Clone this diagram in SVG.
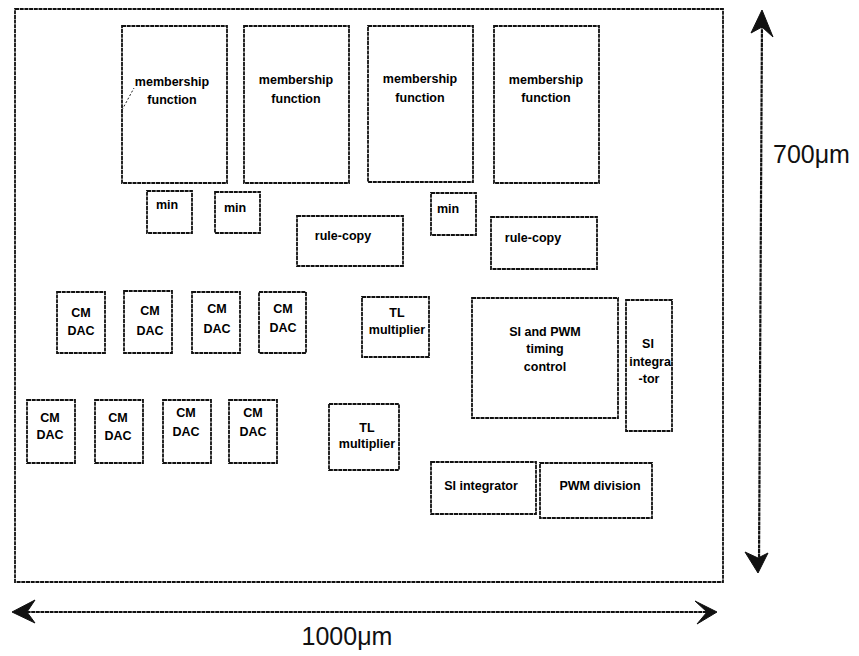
<svg xmlns="http://www.w3.org/2000/svg" width="859" height="656" viewBox="0 0 859 656">
<style>
.blk{fill:none;stroke:#111;stroke-width:1.8;stroke-dasharray:4 0.7}
.lbl{font-family:"Liberation Sans",Arial,sans-serif;font-weight:bold;font-size:12.5px;fill:#000;text-anchor:middle}
.dim{font-family:"Liberation Sans",Arial,sans-serif;font-size:25px;fill:#111}
.arr{stroke:#111;stroke-width:2.2;fill:none;stroke-dasharray:4 0.6}
.head{fill:#111;stroke:#111;stroke-width:1;stroke-linejoin:round}
</style>
<rect width="859" height="656" fill="#fff"/>
<g id="chip"><rect class="blk" x="15" y="9" width="708" height="573"/></g>

<g id="mf1"><rect class="blk" x="122" y="26" width="105" height="157"/>
<line x1="122" y1="110" x2="134" y2="88" stroke="#222" stroke-width="1" stroke-dasharray="2 2"/>
<text class="lbl" x="172" y="86">membership</text><text class="lbl" x="172" y="104">function</text></g>
<g id="mf2"><rect class="blk" x="244" y="26" width="105" height="157"/>
<text class="lbl" x="296" y="84">membership</text><text class="lbl" x="296" y="103">function</text></g>
<g id="mf3"><rect class="blk" x="368" y="26" width="105" height="156"/>
<text class="lbl" x="420" y="83">membership</text><text class="lbl" x="420" y="102">function</text></g>
<g id="mf4"><rect class="blk" x="494" y="26" width="105" height="157"/>
<text class="lbl" x="546" y="84">membership</text><text class="lbl" x="546" y="102">function</text></g>

<g id="min1"><rect class="blk" x="147" y="191" width="45" height="42"/><text class="lbl" x="167" y="209">min</text></g>
<g id="min2"><rect class="blk" x="215" y="192" width="45" height="41"/><text class="lbl" x="235" y="212">min</text></g>
<g id="min3"><rect class="blk" x="431" y="193" width="45" height="42"/><text class="lbl" x="448" y="213">min</text></g>
<g id="rulecopy1"><rect class="blk" x="297" y="216" width="106" height="50"/><text class="lbl" x="343" y="240">rule-copy</text></g>
<g id="rulecopy2"><rect class="blk" x="491" y="217" width="106" height="52"/><text class="lbl" x="533" y="242">rule-copy</text></g>

<g id="dac1"><rect class="blk" x="57" y="292" width="48" height="61"/><text class="lbl" x="81" y="317">CM</text><text class="lbl" x="81" y="335">DAC</text></g>
<g id="dac2"><rect class="blk" x="124" y="291" width="48" height="62"/><text class="lbl" x="150" y="315">CM</text><text class="lbl" x="150" y="335">DAC</text></g>
<g id="dac3"><rect class="blk" x="192" y="292" width="48" height="61"/><text class="lbl" x="217" y="313">CM</text><text class="lbl" x="217" y="333">DAC</text></g>
<g id="dac4"><rect class="blk" x="259" y="292" width="47" height="61"/><text class="lbl" x="283" y="313">CM</text><text class="lbl" x="283" y="332">DAC</text></g>
<g id="tl1"><rect class="blk" x="362" y="297" width="67" height="60"/><text class="lbl" x="397" y="317">TL</text><text class="lbl" x="397" y="334">multiplier</text></g>

<g id="dac5"><rect class="blk" x="27" y="400" width="48" height="63"/><text class="lbl" x="50" y="422">CM</text><text class="lbl" x="50" y="439">DAC</text></g>
<g id="dac6"><rect class="blk" x="95" y="400" width="48" height="63"/><text class="lbl" x="118" y="422">CM</text><text class="lbl" x="118" y="440">DAC</text></g>
<g id="dac7"><rect class="blk" x="163" y="400" width="48" height="63"/><text class="lbl" x="186" y="417">CM</text><text class="lbl" x="186" y="436">DAC</text></g>
<g id="dac8"><rect class="blk" x="229" y="400" width="48" height="63"/><text class="lbl" x="253" y="417">CM</text><text class="lbl" x="253" y="436">DAC</text></g>
<g id="tl2"><rect class="blk" x="329" y="404" width="70" height="66"/><text class="lbl" x="367" y="432">TL</text><text class="lbl" x="367" y="448">multiplier</text></g>

<g id="timing"><rect class="blk" x="472" y="298" width="146" height="120"/>
<text class="lbl" x="545" y="336">SI and PWM</text><text class="lbl" x="545" y="353">timing</text><text class="lbl" x="545" y="371">control</text></g>
<g id="siint1"><rect class="blk" x="626" y="300" width="46" height="131"/>
<text class="lbl" x="648" y="348">SI</text><text class="lbl" x="650" y="366">integra</text><text class="lbl" x="649" y="383">-tor</text></g>
<g id="siint2"><rect class="blk" x="431" y="462" width="105" height="52"/><text class="lbl" x="481" y="490">SI integrator</text></g>
<g id="pwmdiv"><rect class="blk" x="540" y="463" width="112" height="55"/><text class="lbl" x="600" y="490">PWM division</text></g>

<g id="connectors">
<line class="arr" x1="762" y1="20" x2="759" y2="565"/>
<polygon class="head" points="762,10 773,37 762,27 751,33"/>
<polygon class="head" points="758,573 745,552 758,558 768,553"/>
<line class="arr" x1="22" y1="612" x2="708" y2="612"/>
<polygon class="head" points="12,612 35,600 27,612 35,623"/>
<polygon class="head" points="717,612 695,601 707,612 697,624"/>
</g>
<g id="dimensions">
<text class="dim" x="773" y="163">700μm</text>
<text class="dim" x="347" y="645" text-anchor="middle">1000μm</text>
</g>
</svg>
